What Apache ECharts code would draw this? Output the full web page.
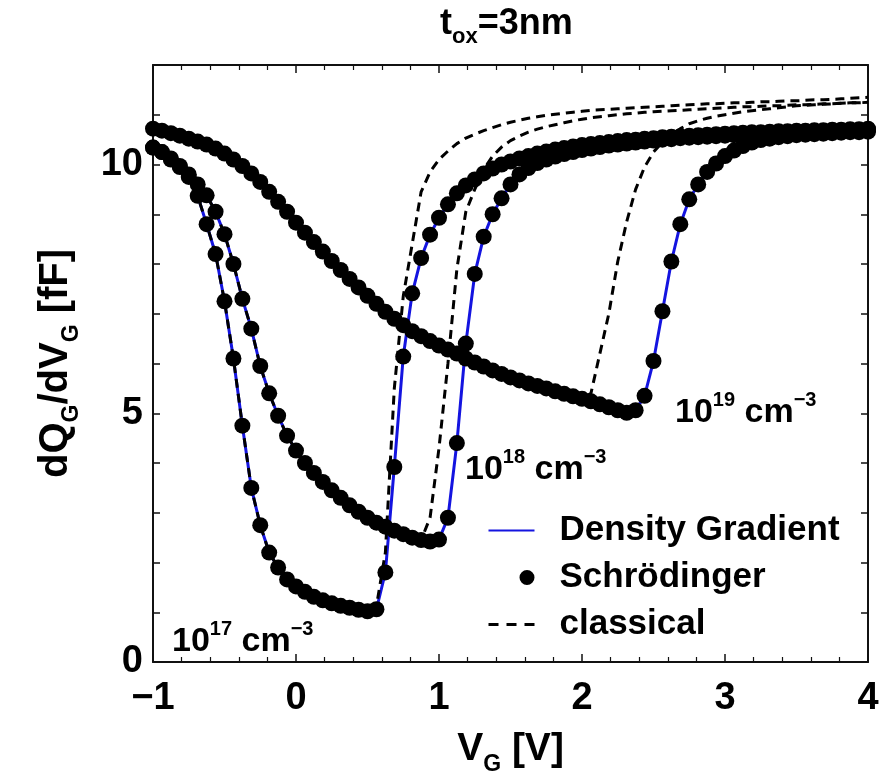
<!DOCTYPE html>
<html>
<head>
<meta charset="utf-8">
<title>dQG/dVG vs VG, tox=3nm</title>
<script src="https://cdn.jsdelivr.net/npm/echarts@6.0.0/dist/echarts.min.js"></script>
<style>
  html, body { margin: 0; padding: 0; background: #fff; }
  #chart { width: 889px; height: 782px; }
</style>
</head>
<body>
<div id="chart"></div>
<script>
// gate voltage samples [V]
var vg = [-1, -0.9375, -0.875, -0.8125, -0.75, -0.6875, -0.625, -0.5625, -0.5, -0.4375, -0.375, -0.3125, -0.25, -0.1875, -0.125, -0.0625,
  0, 0.0625, 0.125, 0.1875, 0.25, 0.3125, 0.375, 0.4375, 0.5, 0.5625, 0.625, 0.6875, 0.75, 0.8125, 0.875, 0.9375,
  1, 1.0625, 1.125, 1.1875, 1.25, 1.3125, 1.375, 1.4375, 1.5, 1.5625, 1.625, 1.6875, 1.75, 1.8125, 1.875, 1.9375,
  2, 2.0625, 2.125, 2.1875, 2.25, 2.3125, 2.375, 2.4375, 2.5, 2.5625, 2.625, 2.6875, 2.75, 2.8125, 2.875, 2.9375,
  3, 3.0625, 3.125, 3.1875, 3.25, 3.3125, 3.375, 3.4375, 3.5, 3.5625, 3.625, 3.6875, 3.75, 3.8125, 3.875, 3.9375, 4];

// Schroedinger dQ/dV [fF] (density gradient lines lie on top of these)
var schr17 = [10.34, 10.25, 10.1, 9.95, 9.75, 9.37, 8.8, 8.2, 7.25, 6.1, 4.75, 3.5, 2.75, 2.2, 1.9, 1.66,
  1.52, 1.41, 1.31, 1.24, 1.18, 1.13, 1.09, 1.05, 1.02, 1.06, 1.8, 3.92, 6.14, 7.41, 8.12, 8.59,
  8.93, 9.2, 9.42, 9.58, 9.7, 9.82, 9.92, 10.0, 10.06, 10.12, 10.17, 10.22, 10.26, 10.3, 10.33, 10.36,
  10.39, 10.41, 10.43, 10.45, 10.47, 10.49, 10.5, 10.52, 10.53, 10.55, 10.56, 10.57, 10.58, 10.59, 10.6, 10.61,
  10.62, 10.63, 10.64, 10.65, 10.65, 10.66, 10.67, 10.67, 10.68, 10.68, 10.69, 10.69, 10.7, 10.7, 10.71, 10.71, 10.72];
var schr18 = [10.34, 10.25, 10.12, 9.97, 9.8, 9.6, 9.38, 9.05, 8.6, 8.0, 7.3, 6.7, 5.95, 5.4, 4.95, 4.55,
  4.25, 4.0, 3.8, 3.62, 3.45, 3.3, 3.15, 3.02, 2.9, 2.8, 2.72, 2.64, 2.57, 2.5, 2.45, 2.42,
  2.46, 2.9, 4.4, 6.4, 7.8, 8.55, 9.0, 9.32, 9.6, 9.8, 9.93, 10.03, 10.1, 10.16, 10.21, 10.25,
  10.29, 10.32, 10.35, 10.38, 10.4, 10.42, 10.44, 10.46, 10.48, 10.5, 10.51, 10.53, 10.54, 10.55, 10.56, 10.57,
  10.58, 10.59, 10.6, 10.61, 10.62, 10.63, 10.63, 10.64, 10.65, 10.65, 10.66, 10.67, 10.67, 10.68, 10.68, 10.69, 10.7];
var schr19 = [10.72, 10.68, 10.63, 10.58, 10.52, 10.46, 10.4, 10.32, 10.22, 10.1, 9.97, 9.82, 9.65, 9.45, 9.25, 9.05,
  8.83, 8.63, 8.44, 8.25, 8.06, 7.88, 7.7, 7.53, 7.36, 7.2, 7.04, 6.9, 6.77, 6.65, 6.55, 6.45,
  6.36, 6.28, 6.2, 6.1, 6.02, 5.94, 5.86, 5.79, 5.72, 5.66, 5.6, 5.55, 5.5, 5.44, 5.39, 5.34,
  5.29, 5.24, 5.18, 5.12, 5.06, 5.01, 5.06, 5.35, 6.05, 7.05, 8.05, 8.8, 9.3, 9.6, 9.85, 10.02,
  10.17, 10.28, 10.37, 10.44, 10.49, 10.52, 10.55, 10.57, 10.59, 10.6, 10.61, 10.62, 10.63, 10.64, 10.65, 10.65, 10.66];

// classical dQ/dV [fF]
var class17 = [10.34, 10.25, 10.1, 9.95, 9.75, 9.37, 8.8, 8.2, 7.25, 6.1, 4.75, 3.5, 2.75, 2.2, 1.9, 1.66,
  1.52, 1.41, 1.31, 1.24, 1.18, 1.13, 1.09, 1.05, 1.02, 1.12, 2.2, 5.5, 7.35, 8.4, 9.45, 9.85,
  10.1, 10.27, 10.42, 10.53, 10.61, 10.68, 10.74, 10.8, 10.85, 10.89, 10.93, 10.96, 10.99, 11.01, 11.03, 11.05,
  11.07, 11.09, 11.1, 11.11, 11.12, 11.13, 11.14, 11.15, 11.16, 11.17, 11.18, 11.19, 11.2, 11.21, 11.22, 11.22,
  11.23, 11.24, 11.24, 11.25, 11.26, 11.26, 11.27, 11.28, 11.28, 11.29, 11.3, 11.3, 11.31, 11.32, 11.33, 11.34, 11.35];
var class18 = [10.34, 10.25, 10.12, 9.97, 9.8, 9.6, 9.38, 9.05, 8.6, 8.0, 7.3, 6.7, 5.95, 5.4, 4.95, 4.55,
  4.25, 4.0, 3.8, 3.62, 3.45, 3.3, 3.15, 3.02, 2.9, 2.8, 2.72, 2.64, 2.57, 2.5, 2.45, 2.9,
  4.3, 6.0, 7.9, 9.05, 9.5, 9.9, 10.17, 10.35, 10.48, 10.57, 10.65, 10.71, 10.76, 10.8, 10.84, 10.88,
  10.91, 10.94, 10.96, 10.98, 11.0, 11.02, 11.03, 11.05, 11.06, 11.07, 11.08, 11.09, 11.1, 11.11, 11.12, 11.13,
  11.14, 11.15, 11.16, 11.16, 11.17, 11.18, 11.18, 11.19, 11.2, 11.2, 11.21, 11.22, 11.22, 11.23, 11.24, 11.24, 11.25];
var class19 = [10.72, 10.68, 10.63, 10.58, 10.52, 10.46, 10.4, 10.32, 10.22, 10.1, 9.97, 9.82, 9.65, 9.45, 9.25, 9.05,
  8.83, 8.63, 8.44, 8.25, 8.06, 7.88, 7.7, 7.53, 7.36, 7.2, 7.04, 6.9, 6.77, 6.65, 6.55, 6.45,
  6.36, 6.28, 6.2, 6.1, 6.02, 5.94, 5.86, 5.79, 5.72, 5.66, 5.6, 5.55, 5.5, 5.44, 5.39, 5.34,
  5.29, 5.4, 6.2, 7.0, 8.05, 8.85, 9.5, 9.95, 10.25, 10.45, 10.6, 10.72, 10.82, 10.88, 10.93, 10.97,
  11.0, 11.03, 11.06, 11.08, 11.1, 11.12, 11.14, 11.16, 11.18, 11.19, 11.2, 11.21, 11.22, 11.23, 11.24, 11.24, 11.25];

var yLabelValues = [0, 5, 10];
var dopings = ['17', '18', '19'];

var FONT = '"Liberation Sans", Arial, Helvetica, sans-serif';
var INK = '#111';

function pairs(ys) {
  return vg.map(function (x, i) { return [x, ys[i]]; });
}

function dgLine(ys) {
  return {
    name: 'Density Gradient', type: 'line', data: pairs(ys), symbol: 'none',
    lineStyle: { color: '#1414e0', width: 3 }, itemStyle: { color: '#1414e0' }, z: 2
  };
}
function classicalLine(ys) {
  return {
    name: 'classical', type: 'line', data: pairs(ys), symbol: 'none',
    lineStyle: { color: '#000', width: 3, type: [9, 6] }, itemStyle: { color: '#000' }, z: 3
  };
}
function schrDots(ys) {
  return {
    name: 'Schrödinger', type: 'scatter', data: pairs(ys), symbolSize: 16,
    itemStyle: { color: '#000', opacity: 1 }, z: 4
  };
}

// sub/superscript styles for rich text
function subRich(size, subSize, drop) {
  return {
    a: { fontSize: size, fontWeight: 'bold', fontFamily: FONT, color: '#000', verticalAlign: 'top' },
    s: { fontSize: subSize, fontWeight: 'bold', fontFamily: FONT, color: '#000', verticalAlign: 'top',
         padding: [Math.round(0.8 * (size - subSize)) + drop, 0, 0, 0] }
  };
}
var supRich = {
  a: { fontSize: 34, fontWeight: 'bold', fontFamily: FONT, color: '#000', verticalAlign: 'bottom' },
  p: { fontSize: 20, fontWeight: 'bold', fontFamily: FONT, color: '#000', verticalAlign: 'bottom', padding: [0, 0, 20, 0] }
};

function dopingText(exp, x, y) {
  return {
    type: 'text', x: x, y: y, silent: true,
    style: { text: '{a|10}{p|' + exp + '}{a| cm}{p|\u22123}', rich: supRich, verticalAlign: 'bottom' }
  };
}

var frameLine = { show: true, onZero: false, lineStyle: { color: INK, width: 2 } };
var xTick = { show: true, inside: true, length: 8, lineStyle: { color: INK, width: 1.5 } };
var xMinor = { show: true, splitNumber: 5, length: 5, lineStyle: { color: INK, width: 1.2 } };
var yTick = { show: true, inside: true, length: 7, lineStyle: { color: INK, width: 1.5 } };

var chart = echarts.init(document.getElementById('chart'));
chart.setOption({
  animation: false,
  backgroundColor: '#fff',
  grid: { left: 153, right: 21, top: 65, bottom: 120, outerBoundsMode: 'none' },
  xAxis: [{
    type: 'value', min: -1, max: 4, interval: 1, position: 'bottom',
    axisLine: frameLine, axisTick: xTick, minorTick: xMinor, splitLine: { show: false },
    axisLabel: {
      margin: 18, fontSize: 38, fontWeight: 'bold', fontFamily: FONT, color: '#000',
      formatter: function (v) { return String(v).replace('-', '\u2212'); }
    },
    name: '{a|V}{s|G}{a| [V]}', nameLocation: 'middle', nameGap: 68,
    nameTextStyle: { rich: subRich(39, 23, 10) }
  }, {
    type: 'value', min: -1, max: 4, interval: 1, position: 'top',
    axisLine: frameLine, axisTick: xTick, minorTick: xMinor, splitLine: { show: false },
    axisLabel: { show: false }
  }],
  yAxis: [{
    type: 'value', min: 0, max: 12, interval: 1, position: 'left',
    axisLine: frameLine, axisTick: yTick, splitLine: { show: false },
    axisLabel: {
      margin: 10, fontSize: 38, fontWeight: 'bold', fontFamily: FONT, color: '#000',
      formatter: function (v) { return yLabelValues.indexOf(v) >= 0 ? String(v) : ''; }
    },
    name: '{a|dQ}{s|G}{a|/dV}{s|G}{a| [fF]}', nameLocation: 'middle', nameRotate: 90, nameGap: 70,
    nameTextStyle: { rich: subRich(40, 23, 10) }
  }, {
    type: 'value', min: 0, max: 12, interval: 1, position: 'right',
    axisLine: frameLine, axisTick: yTick, splitLine: { show: false },
    axisLabel: { show: false }
  }],
  legend: {
    orient: 'vertical', left: 482, top: 508, itemWidth: 46, itemHeight: 15, itemGap: 12,
    selectedMode: false,
    textStyle: { fontSize: 35, fontWeight: 'bold', fontFamily: FONT, color: '#000', padding: [0, 0, 0, 20] },
    data: [
      { name: 'Density Gradient', itemStyle: { opacity: 0 } },
      { name: 'Schrödinger', icon: 'path://M0,7.5L0.01,7.5M31,7.5A7.5,7.5,0,1,1,46,7.5A7.5,7.5,0,1,1,31,7.5Z' },
      { name: 'classical', itemStyle: { opacity: 0 }, lineStyle: { type: [10, 8], width: 3 } }
    ]
  },
  graphic: [
    { type: 'text', x: 440, y: 6, silent: true,
      style: { text: '{a|t}{s|ox}{a|=3nm}', rich: subRich(36, 22, 9) } },
    dopingText(dopings[0], 172, 659),
    dopingText(dopings[1], 465, 487),
    dopingText(dopings[2], 675, 430)
  ],
  series: [
    dgLine(schr17), dgLine(schr18), dgLine(schr19),
    classicalLine(class17), classicalLine(class18), classicalLine(class19),
    schrDots(schr17), schrDots(schr18), schrDots(schr19)
  ]
});
</script>
</body>
</html>
